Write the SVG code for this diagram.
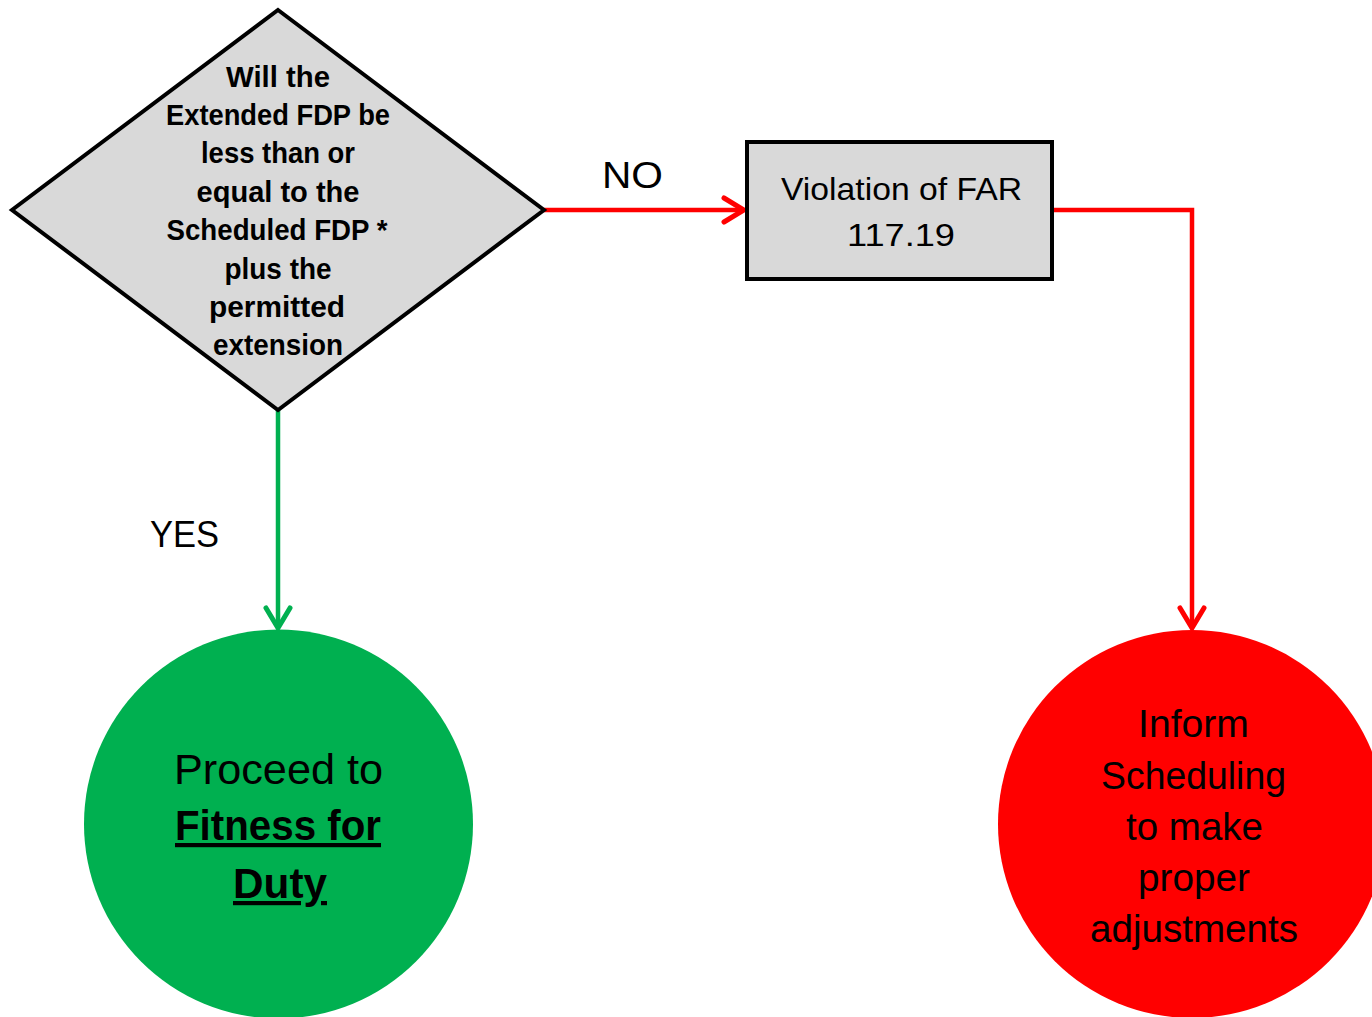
<svg xmlns="http://www.w3.org/2000/svg" width="1372" height="1017" viewBox="0 0 1372 1017">
<style>
text{font-family:"Liberation Sans",Arial,sans-serif;fill:#000;text-anchor:middle}
.dt{font-size:29px;font-weight:bold}
.lbl{font-size:37px}
.bx{font-size:32px}
.gc{font-size:42px}
.rc{font-size:38px}
.conn{fill:none;stroke-width:4.5;stroke-linejoin:miter}
</style>
<defs>
<marker id="ar" markerUnits="userSpaceOnUse" viewBox="0 0 26 30" refX="23" refY="15" markerWidth="26" markerHeight="30" orient="auto">
<path d="M3,3 L23,15 L3,27" fill="none" stroke="#ff0000" stroke-width="5" stroke-linecap="round" stroke-linejoin="miter"/>
</marker>
<marker id="ag" markerUnits="userSpaceOnUse" viewBox="0 0 26 30" refX="23" refY="15" markerWidth="26" markerHeight="30" orient="auto">
<path d="M3,3 L23,15 L3,27" fill="none" stroke="#00b050" stroke-width="5" stroke-linecap="round" stroke-linejoin="miter"/>
</marker>
</defs>
<rect width="1372" height="1017" fill="#fff"/>
<g id="connectors">
<path class="conn" stroke="#ff0000" d="M544,210 L744,210" marker-end="url(#ar)"/>
<path class="conn" stroke="#ff0000" d="M1052,210 L1192,210 L1192,628" marker-end="url(#ar)"/>
<path class="conn" stroke="#00b050" d="M278,410 L278,628" marker-end="url(#ag)"/>
<text class="lbl" x="632.5" y="188" textLength="61" lengthAdjust="spacingAndGlyphs">NO</text>
<text class="lbl" x="184.5" y="547" textLength="69" lengthAdjust="spacingAndGlyphs">YES</text>
</g>
<g id="decision">
<polygon points="278,10 544,210 278,410 12,210" fill="#d9d9d9" stroke="#000" stroke-width="4" stroke-linejoin="miter"/>
<text class="dt" x="278" y="87" textLength="104" lengthAdjust="spacingAndGlyphs">Will the</text>
<text class="dt" x="278" y="125" textLength="224" lengthAdjust="spacingAndGlyphs">Extended FDP be</text>
<text class="dt" x="278" y="163" textLength="154" lengthAdjust="spacingAndGlyphs">less than or</text>
<text class="dt" x="278" y="202" textLength="163" lengthAdjust="spacingAndGlyphs">equal to the</text>
<text class="dt" x="277" y="240" textLength="221" lengthAdjust="spacingAndGlyphs">Scheduled FDP *</text>
<text class="dt" x="278" y="279" textLength="107" lengthAdjust="spacingAndGlyphs">plus the</text>
<text class="dt" x="277" y="317" textLength="136" lengthAdjust="spacingAndGlyphs">permitted</text>
<text class="dt" x="278" y="355" textLength="130" lengthAdjust="spacingAndGlyphs">extension</text>
</g>
<g id="violation">
<rect x="747" y="142" width="305" height="137" fill="#d9d9d9" stroke="#000" stroke-width="4"/>
<text class="bx" x="901.5" y="200" textLength="241" lengthAdjust="spacingAndGlyphs">Violation of FAR</text>
<text class="bx" x="901" y="246" textLength="108" lengthAdjust="spacingAndGlyphs">117.19</text>
</g>
<g id="proceed">
<circle cx="278.5" cy="824" r="194.5" fill="#00b050"/>
<text class="gc" x="278.5" y="784" textLength="209" lengthAdjust="spacingAndGlyphs">Proceed to</text>
<text class="gc" x="278" y="840" font-weight="bold" text-decoration="underline" textLength="206" lengthAdjust="spacingAndGlyphs">Fitness for</text>
<text class="gc" x="280" y="898" font-weight="bold" text-decoration="underline" textLength="94" lengthAdjust="spacingAndGlyphs">Duty</text>
</g>
<g id="inform">
<circle cx="1192" cy="824" r="194" fill="#ff0000"/>
<text class="rc" x="1193.5" y="737" textLength="111" lengthAdjust="spacingAndGlyphs">Inform</text>
<text class="rc" x="1193.5" y="789" textLength="185" lengthAdjust="spacingAndGlyphs">Scheduling</text>
<text class="rc" x="1194.5" y="840" textLength="137" lengthAdjust="spacingAndGlyphs">to make</text>
<text class="rc" x="1194" y="891" textLength="112" lengthAdjust="spacingAndGlyphs">proper</text>
<text class="rc" x="1194" y="942" textLength="208" lengthAdjust="spacingAndGlyphs">adjustments</text>
</g>
</svg>
